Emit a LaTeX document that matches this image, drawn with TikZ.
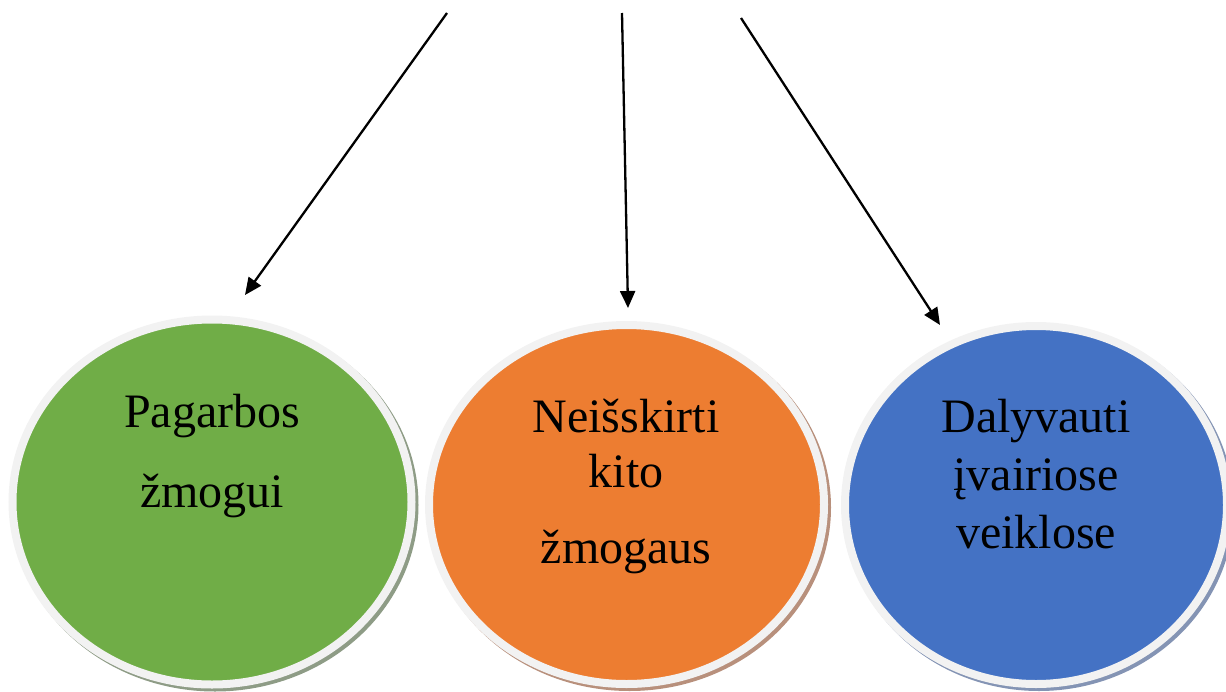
\documentclass[tikz,border=0pt]{standalone}
\usepackage{fontspec}
\setmainfont{Liberation Serif}
\usetikzlibrary{shapes.geometric,arrows.meta}
\definecolor{cgreen}{HTML}{70AD47}
\definecolor{corange}{HTML}{ED7D31}
\definecolor{cblue}{HTML}{4472C4}
\definecolor{cring}{HTML}{F2F2F2}
\definecolor{sgreen}{HTML}{8E9C86}
\definecolor{sorange}{HTML}{B8907C}
\definecolor{sblue}{HTML}{8494B4}
\begin{document}
\begin{tikzpicture}[x=1pt,y=-1pt,
  bubble/.style={ellipse,inner sep=0pt,outer sep=0pt,draw=cring,line width=8pt},
  shade/.style={ellipse,inner sep=0pt,outer sep=0pt,line width=8pt},
  lbl/.style={anchor=base,inner sep=0pt,font=\fontsize{48}{56}\selectfont},
  conn/.style={line width=2.3pt,-{Triangle[length=17pt,width=15pt]}}]
\useasboundingbox (0,0) rectangle (1226,691);
% shadows
\node[shade,draw=sgreen,fill=sgreen,minimum width=399pt,minimum height=365pt] (gs) at (215,505) {};
\node[shade,draw=sorange,fill=sorange,minimum width=395pt,minimum height=359pt] (os) at (629.5,507.5) {};
\node[shade,draw=sblue,fill=sblue,minimum width=382pt,minimum height=358pt] (bs) at (1039,508) {};
% circles
\node[bubble,fill=cgreen,minimum width=399pt,minimum height=365pt] (g) at (212,502) {};
\node[bubble,fill=corange,minimum width=395pt,minimum height=359pt] (o) at (626.5,504.5) {};
\node[bubble,fill=cblue,minimum width=382pt,minimum height=358pt] (b) at (1036,505) {};
% texts
\node[lbl] (g1) at (212,427) {Pagarbos};
\node[lbl] (g2) at (212,507) {žmogui};
\node[lbl] (o1) at (626,432) {Neišskirti};
\node[lbl] (o2) at (626,487) {kito};
\node[lbl] (o3) at (626,563) {žmogaus};
\node[lbl] (b1) at (1036,432) {Dalyvauti};
\node[lbl] (b2) at (1036,490) {įvairiose};
\node[lbl] (b3) at (1036,548) {veiklose};
% arrows
\coordinate (s1) at (447,13);
\coordinate (t1) at (245,295);
\coordinate (s2) at (622,13);
\coordinate (t2) at (628,308);
\coordinate (s3) at (741,18);
\coordinate (t3) at (940,325);
\draw[conn] (s1) -- (t1);
\draw[conn] (s2) -- (t2);
\draw[conn] (s3) -- (t3);
\end{tikzpicture}
\end{document}
